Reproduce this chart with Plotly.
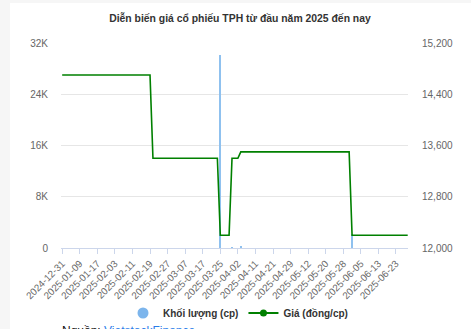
import pandas as pd
import plotly.graph_objects as go

# ---- data ----
start_date = "2024-12-31"
end_date = "2025-06-27"
holidays = ["2025-01-01", "2025-01-27", "2025-01-28", "2025-01-29", "2025-01-30",
            "2025-01-31", "2025-04-07", "2025-04-30", "2025-05-01", "2025-05-02"]

# price steps: date from which the price applies, and the price (dong/cp)
price_change_dates = ["2024-12-31", "2025-02-20", "2025-03-25", "2025-03-31", "2025-04-03", "2025-06-02"]
price_levels = [14700, 13400, 12200, 13400, 13500, 12200]

# traded volume (cp) on the days with trades
volume_dates = ["2025-03-25", "2025-03-31", "2025-04-03", "2025-06-02"]
volume_values = [30100, 100, 250, 2200]

tick_dates = ["2024-12-31", "2025-01-09", "2025-01-17", "2025-02-03", "2025-02-11", "2025-02-19",
              "2025-02-27", "2025-03-07", "2025-03-17", "2025-03-25", "2025-04-02", "2025-04-11",
              "2025-04-21", "2025-04-29", "2025-05-12", "2025-05-20", "2025-05-28", "2025-06-05",
              "2025-06-13", "2025-06-23"]
left_tickvals = [0, 8000, 16000, 24000, 32000]
left_ticktext = ["0", "8K", "16K", "24K", "32K"]
right_tickvals = [12000, 12800, 13600, 14400, 15200]

# ---- build series ----
days = [d.strftime("%Y-%m-%d") for d in pd.bdate_range(start_date, end_date)
        if d.strftime("%Y-%m-%d") not in holidays]
price = []
cur = None
for d in days:
    if d in price_change_dates:
        cur = price_levels[price_change_dates.index(d)]
    price.append(cur)
vol_map = dict(zip(volume_dates, volume_values))
volume = [vol_map.get(d, 0) for d in days]

GREEN = "#008000"
BLUE = "#8fc1ef"
FONT = "Liberation Sans, Arial, sans-serif"

fig = go.Figure()
fig.add_trace(go.Bar(x=days, y=volume, marker=dict(color=BLUE, line=dict(width=0)),
                     width=0.75, showlegend=False, yaxis="y", name="Khối lượng (cp)"))
fig.add_trace(go.Scatter(x=days, y=price, mode="lines", line=dict(color=GREEN, width=1.6),
                         showlegend=False, yaxis="y2", name="Giá (đồng/cp)"))
# legend entries
fig.add_trace(go.Scatter(x=[None], y=[None], mode="markers", name="Khối lượng (cp)",
                         marker=dict(color="#7cb5ec", size=11, symbol="circle")))
fig.add_trace(go.Scatter(x=[None], y=[None], mode="lines+markers", name="Giá (đồng/cp)",
                         line=dict(color=GREEN, width=2), marker=dict(color=GREEN, size=7),
                         yaxis="y2"))

W, H = 471, 329
L, R, T, B = 61, 63, 43, 81
pw, ph = W - L - R, H - T - B

def px_x(px):
    return (px - L) / pw

def px_y(py):
    return (H - B - py) / ph

fig.update_layout(
    width=W, height=H,
    margin=dict(l=L, r=R, t=T, b=B, pad=0, autoexpand=False),
    paper_bgcolor="#f6f6f6",
    plot_bgcolor="rgba(0,0,0,0)",
    font=dict(family=FONT, color="#666666", size=10),
    title=dict(text="<b>Diễn biến giá cổ phiếu TPH từ đầu năm 2025 đến nay</b>",
               x=240 / W, xanchor="center", xref="container",
               y=1 - 18 / H, yanchor="middle", yref="container",
               font=dict(family=FONT, size=10.4, color="#333333")),
    bargap=0,
    xaxis=dict(type="category", range=[-0.4, len(days) - 0.9], automargin=False,
               tickmode="array", tickvals=tick_dates, ticktext=tick_dates,
               tickangle=-45, tickfont=dict(size=9.8, color="#666666"),
               showgrid=False, showline=True, linecolor="#ccd6eb", linewidth=1,
               ticks="outside", ticklen=5, tickcolor="#ccd6eb", zeroline=False),
    yaxis=dict(range=[0, 32000], tickvals=left_tickvals, ticktext=left_ticktext, automargin=False,
               showgrid=True, gridcolor="#e6e6e6", gridwidth=1, zeroline=False,
               ticks="", ticklabelstandoff=12, tickfont=dict(size=10, color="#666666")),
    yaxis2=dict(range=[12000, 15200], tickvals=right_tickvals, tickformat=",", automargin=False,
                overlaying="y", side="right", showgrid=False, zeroline=False,
                ticks="", ticklabelstandoff=13, tickfont=dict(size=10, color="#666666")),
    legend=dict(orientation="h", x=238 / W, xanchor="center", xref="container",
                y=1 - 313 / H, yanchor="middle", yref="container",
                font=dict(family=FONT, size=10, color="#333333", weight="bold"),
                bgcolor="rgba(0,0,0,0)", tracegroupgap=0),
    shapes=[dict(type="rect", xref="paper", yref="paper", layer="below",
                 x0=px_x(10), x1=px_x(W + 5), y0=px_y(H + 5), y1=px_y(3),
                 fillcolor="#ffffff", line=dict(width=0))],
    annotations=[dict(text="Nguồn: <a href='https://finance.vietstock.vn' style='color:#2b7de9'>VietstockFinance</a>",
                      xref="paper", yref="paper", x=px_x(60), y=px_y(322),
                      xanchor="left", yanchor="top", showarrow=False,
                      font=dict(family=FONT, size=12, color="#111111"))],
)

fig.write_html("out.html")
